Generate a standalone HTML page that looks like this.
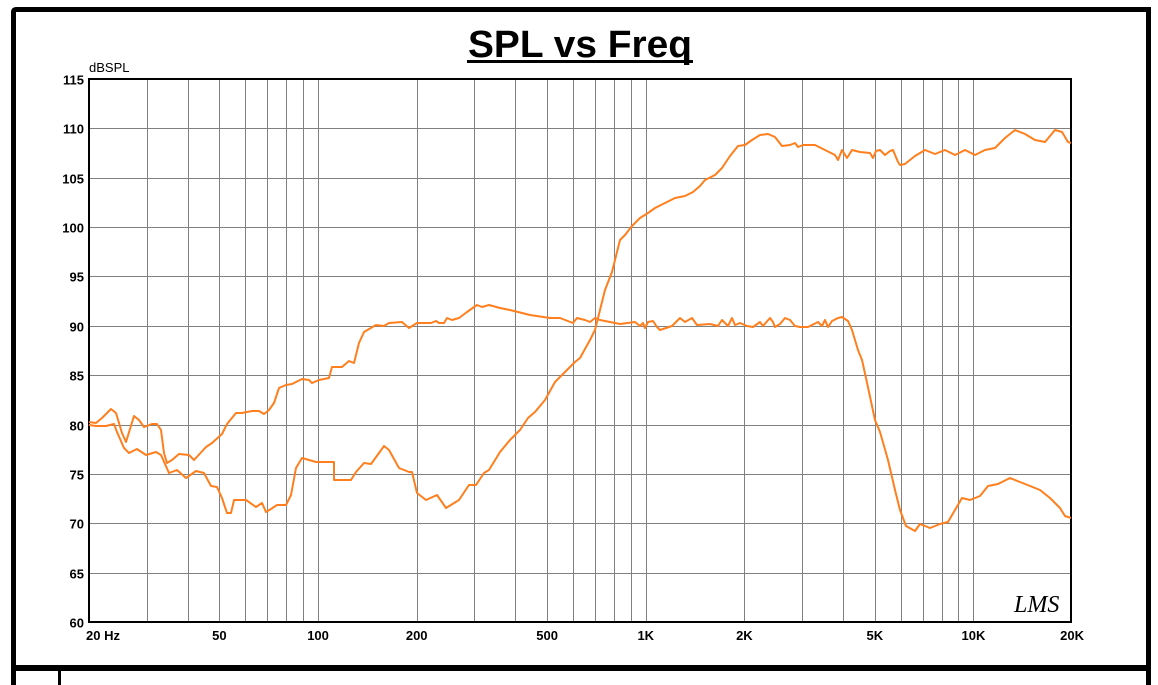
<!DOCTYPE html>
<html><head><meta charset="utf-8"><style>
html,body{margin:0;padding:0;background:#fff;width:1158px;height:685px;overflow:hidden}
svg{display:block;font-family:"Liberation Sans",Arial,sans-serif}
</style></head><body>
<svg id="s" width="1158" height="685" viewBox="0 0 1158 685" xmlns="http://www.w3.org/2000/svg">
<rect x="0" y="0" width="1158" height="685" fill="#fff"/>
<path d="M13.5 685 V12 Q13.5 9.5 16 9.5 H1148.5 V685" fill="none" stroke="#000" stroke-width="5"/>
<rect x="13" y="665" width="1136" height="6" fill="#000"/>
<rect x="58" y="671" width="3" height="14" fill="#000"/>
<text x="580" y="57" text-anchor="middle" font-size="38" font-weight="bold" textLength="224" lengthAdjust="spacingAndGlyphs">SPL vs Freq</text>
<rect x="467" y="60" width="226" height="3" fill="#000"/>
<text x="89" y="72" font-size="13">dBSPL</text>
<g id="grid" stroke="#808080" stroke-width="1"></g>
<g id="lab" font-size="13" font-weight="bold"></g>
<rect x="89" y="79" width="982" height="543" fill="none" stroke="#000" stroke-width="2"/>
<g fill="none" stroke="#ff7f1e" stroke-width="2" stroke-linejoin="round">
<polyline points="89,422 96,423 102,418 111,409 116,413 122,433 126,442 134,416 139,420 144,427 152,424 157,424 161,430 164,453 167,463 172,460 179,454 189,455 194,460 206,447 212,443 222,434 227,424 236,413 242,413 252,411 259,411 264,414 269,410 274,403 279,388 286,385 292,384 302,379 309,380 312,383 319,380 329,378 332,367 342,367 349,361 354,363 359,343 364,332 376,325 384,326 389,323 402,322 409,328 417,323 431,323 436,321 439,323 444,323 447,318 452,320 459,318 467,312 477,305 482,307 489,305 500,308 510,310 530,315 550,318 560,318 573,323 577,318 585,320 590,322 595,318 600,320 620,324 635,322 640,326 643,323 645,328 648,322 653,321 657,327 660,330 672,326 680,318 685,322 692,318 697,325 710,324 718,326 722,320 728,326 732,318 735,325 740,323 747,326 753,327 760,322 763,326 770,318 773,322 775,327 780,324 785,318 790,320 795,326 800,327 808,327 812,325 818,322 822,326 825,320 828,327 832,321 838,318 842,317 848,321 852,330 858,350 862,360 866,378 875,420 880,432 888,460 895,490 900,510 906,526 915,531 920,524 930,528 940,524 948,522 955,510 962,498 970,500 980,496 988,486 998,484 1010,478 1020,482 1030,486 1040,490 1050,498 1060,508 1065,516 1071,518"/>
<polyline points="89,425 96,426 106,426 114,424 117,432 124,448 129,453 137,449 146,455 156,452 161,455 169,473 177,470 186,478 196,471 204,473 211,486 217,487 222,498 227,513 231,513 234,500 246,500 256,507 262,503 266,512 271,509 277,505 286,505 291,495 296,468 302,458 309,460 316,462 334,462 334,480 351,480 356,472 364,463 371,464 379,453 384,446 389,450 399,468 409,472 412,472 417,493 426,500 437,495 446,508 459,500 469,485 476,485 484,473 489,470 500,452 510,440 520,430 528,418 535,412 545,400 555,382 565,372 575,362 580,358 590,340 595,330 600,310 605,290 612,272 620,240 625,235 632,226 640,218 648,213 655,208 665,203 675,198 685,196 693,192 700,186 705,180 715,175 722,168 730,156 738,146 745,145 752,140 760,135 768,134 775,137 782,146 790,145 795,143 798,147 803,145 815,145 825,150 835,155 838,160 842,150 847,158 852,150 860,152 870,153 873,158 876,151 880,150 885,155 890,151 893,150 898,162 900,165 905,164 915,156 925,150 935,154 945,150 955,155 965,150 975,155 985,150 995,148 1005,138 1015,130 1025,134 1035,140 1045,142 1055,130 1062,132 1068,142 1071,143"/>
</g>
<text x="1014" y="612" font-size="24" font-style="italic" font-family="Liberation Serif,serif">LMS</text>
</svg>
<script>
var NS="http://www.w3.org/2000/svg",g=document.getElementById('grid'),lb=document.getElementById('lab');
function X(f){return 89+Math.log10(f/20)*327.7}
function Y(v){return 79+(115-v)*543/55}
function ln(x1,y1,x2,y2){var l=document.createElementNS(NS,'line');l.setAttribute('x1',x1);l.setAttribute('y1',y1);l.setAttribute('x2',x2);l.setAttribute('y2',y2);g.appendChild(l)}
function tx(x,y,s,a){var t=document.createElementNS(NS,'text');t.setAttribute('x',x);t.setAttribute('y',y);t.setAttribute('text-anchor',a);t.textContent=s;lb.appendChild(t)}
[30,40,50,60,70,80,90,100,200,300,400,500,600,700,800,900,1000,2000,3000,4000,5000,6000,7000,8000,9000,10000].forEach(function(f){var x=Math.round(X(f))+0.5;ln(x,79,x,622)});
for(var v=60;v<=115;v+=5){var y=Math.round(Y(v))+0.5;if(v>60&&v<115)ln(89,y,1071,y);tx(84,y+5,String(v),'end')}
tx(86,640,'20  Hz','start');
[[50,'50'],[100,'100'],[200,'200'],[500,'500'],[1000,'1K'],[2000,'2K'],[5000,'5K'],[10000,'10K'],[20000,'20K']].forEach(function(p){tx(X(p[0]),640,p[1],'middle')});
</script>
</body></html>
